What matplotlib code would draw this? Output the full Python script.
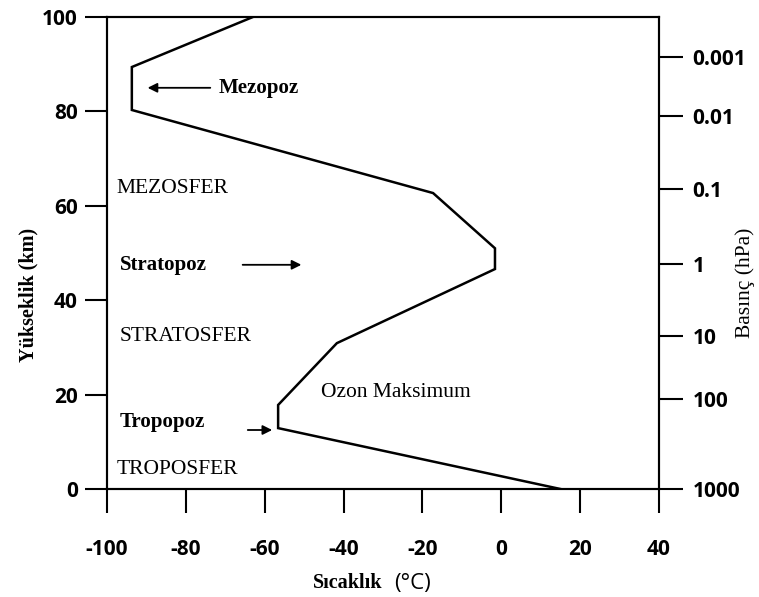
import matplotlib
matplotlib.use("Agg")
import matplotlib.pyplot as plt

# Temperature profile (°C) vs altitude (km)
temperature = [15, -56.6, -56.6, -41.7, -1.6, -1.6, -17.3, -93.7, -93.7, -63]
altitude = [0, 12.9, 17.8, 30.9, 46.6, 51.0, 62.7, 80.3, 89.4, 100]

x_ticks = [-100, -80, -60, -40, -20, 0, 20, 40]
y_ticks = [0, 20, 40, 60, 80, 100]

# Pressure scale on the right (hPa) and the altitudes where they sit
pressure_labels = ["1000", "100", "10", "1", "0.1", "0.01", "0.001"]
pressure_alt = [0, 19.1, 32.4, 47.7, 63.6, 79.0, 91.5]

W, H = 759, 597
fig = plt.figure(figsize=(W / 100, H / 100), dpi=100)
ax = fig.add_axes([107 / W, 1 - 489 / H, (659 - 107) / W, (489 - 17) / H])

ax.plot(temperature, altitude, color="black", lw=1.8, solid_joinstyle="miter")
ax.set_xlim(-100, 40)
ax.set_ylim(0, 100)

tick_font = dict(family="Open Sans", weight="bold", size=15)
ax.set_xticks(x_ticks)
ax.set_xticklabels([str(v) for v in x_ticks], fontdict=tick_font)
ax.set_yticks(y_ticks)
ax.set_yticklabels([str(v) for v in y_ticks], fontdict=tick_font)
ax.tick_params(axis="x", direction="out", length=17, width=1.5, pad=19)
ax.tick_params(axis="y", direction="out", length=16, width=1.5, pad=5)
for s in ax.spines.values():
    s.set_linewidth(1.5)

ax2 = ax.twinx()
ax2.set_ylim(0, 100)
ax2.set_yticks(pressure_alt)
ax2.set_yticklabels(pressure_labels, fontdict=dict(family="Open Sans", weight="bold", size=15))
ax2.tick_params(axis="y", direction="out", length=17, width=1.5, pad=7)
for s in ax2.spines.values():
    s.set_linewidth(1.5)

serif = "Liberation Serif"
# Layer labels
ax.text(-97.6, 63.6, "MEZOSFER", family=serif, size=15.5, va="center", ha="left")
ax.text(-96.8, 32.4, "STRATOSFER", family=serif, size=15.5, va="center", ha="left")
ax.text(-97.6, 4.2, "TROPOSFER", family=serif, size=15.5, va="center", ha="left")
ax.text(-45.6, 20.4, "Ozon Maksimum", family=serif, size=15.5, va="center", ha="left")

# Pause labels with arrows
ax.text(-71.8, 85.0, "Mezopoz", family=serif, weight="bold", size=15, va="center", ha="left")
ax.annotate("", xy=(-90.4, 85.0), xytext=(-73.1, 85.0),
            arrowprops=dict(arrowstyle="-|>", color="black", lw=1.3, mutation_scale=14))
ax.text(-96.8, 47.5, "Stratopoz", family=serif, weight="bold", size=15, va="center", ha="left")
ax.annotate("", xy=(-50.0, 47.5), xytext=(-66.3, 47.5),
            arrowprops=dict(arrowstyle="-|>", color="black", lw=1.3, mutation_scale=14))
ax.text(-96.8, 14.2, "Tropopoz", family=serif, weight="bold", size=15, va="center", ha="left")
ax.annotate("", xy=(-57.4, 12.5), xytext=(-65.0, 12.5),
            arrowprops=dict(arrowstyle="-|>", color="black", lw=1.3, mutation_scale=14))

# Axis titles
fig.text(28 / W, 1 - 295 / H, "Yükseklik (km)", family=serif, weight="bold", size=14.5,
         rotation=90, ha="center", va="center")
fig.text(745 / W, 1 - 283 / H, "Basınç (hPa)", family=serif, size=15.5,
         rotation=90, ha="center", va="center")
fig.text(382 / W, 1 - 583 / H, "Sıcaklık", family=serif, weight="bold", size=14.5,
         ha="right", va="center")
fig.text(394 / W, 1 - 583 / H, "(°C)", family="Open Sans", size=16,
         ha="left", va="center")

fig.savefig("out.png", dpi=100)
